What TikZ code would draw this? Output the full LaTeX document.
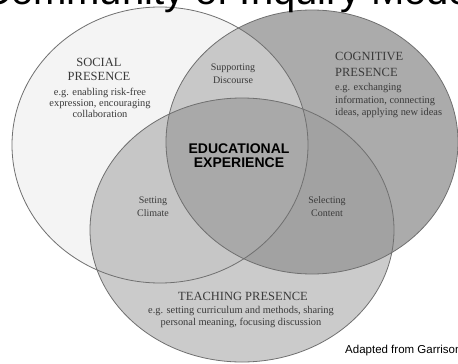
\documentclass[tikz,border=0pt]{standalone}
\usepackage{fontspec}
\setmainfont{Liberation Serif}
\newfontfamily\arialf{Liberation Sans}
\definecolor{socC}{HTML}{F4F4F4}
\definecolor{cogC}{HTML}{ABABAB}
\definecolor{scC}{HTML}{C8C8C8}
\definecolor{teaC}{HTML}{CBCBCB}
\definecolor{stC}{HTML}{C6C6C6}
\definecolor{ctC}{HTML}{A2A2A2}
\definecolor{allC}{HTML}{A9A9A9}
\definecolor{edgeC}{HTML}{707070}
\definecolor{txtC}{HTML}{3A3A3A}
\begin{document}
\begin{tikzpicture}[x=1pt,y=-1pt,
  head/.style={font=\fontsize{12.5}{13}\selectfont, text=txtC, inner sep=0pt},
  desc/.style={font=\fontsize{10.4}{11}\selectfont, text=txtC, inner sep=0pt},
  lens/.style={font=\fontsize{10}{11}\selectfont, text=txtC, inner sep=0pt},
  core/.style={font=\arialf\bfseries\fontsize{14}{15}\selectfont, text=black, inner sep=0pt},
  ring/.style={draw=edgeC, line width=0.8pt}]
\useasboundingbox (0,0) rectangle (458,364);
\fill[white] (0,0) rectangle (458,364);
\def\soc{(160,145) ellipse [x radius=148pt, y radius=138pt]}
\def\cog{(312,142) ellipse [x radius=146pt, y radius=132pt]}
\def\tea{(242,230) ellipse [x radius=152pt, y radius=132pt]}
% fills
\fill[socC] \soc;
\fill[cogC] \cog;
\begin{scope}\clip \soc; \fill[scC] \cog; \end{scope}
\fill[teaC] \tea;
\begin{scope}\clip \tea; \fill[stC] \soc; \end{scope}
\begin{scope}\clip \tea; \fill[ctC] \cog; \end{scope}
\begin{scope}\clip \tea; \clip \soc; \fill[allC] \cog; \end{scope}
% outlines
\draw[ring] \soc;
\draw[ring] \cog;
\draw[ring] \tea;
% title (cropped at top, as in the reference)
\node[anchor=base west, inner sep=0pt, font=\arialf\fontsize{40}{40}\selectfont] (title) at (-18,5) {Community of Inquiry Model};
% social presence
\node[head, anchor=base] (s1) at (99,66) {SOCIAL};
\node[head, anchor=base] (s2) at (99,80) {PRESENCE};
\node[desc, anchor=base] (s3) at (100,95) {e.g. enabling risk-free};
\node[desc, anchor=base] (s4) at (100,106) {expression, encouraging};
\node[desc, anchor=base] (s5) at (100,117.5) {collaboration};
% cognitive presence
\node[head, anchor=base west] (c1) at (335,60) {COGNITIVE};
\node[head, anchor=base west] (c2) at (335,76) {PRESENCE};
\node[desc, anchor=base west] (c3) at (335,90) {e.g. exchanging};
\node[desc, anchor=base west] (c4) at (335,103) {information, connecting};
\node[desc, anchor=base west] (c5) at (335,115) {ideas, applying new ideas};
% lens labels
\node[lens, anchor=base] (d1) at (233,70) {Supporting};
\node[lens, anchor=base] (d2) at (233,83) {Discourse};
\node[lens, anchor=base] (k1) at (153,203) {Setting};
\node[lens, anchor=base] (k2) at (153,216) {Climate};
\node[lens, anchor=base] (l1) at (327,203) {Selecting};
\node[lens, anchor=base] (l2) at (327,216) {Content};
% centre
\node[core, anchor=base] (e1) at (239,153) {EDUCATIONAL};
\node[core, anchor=base] (e2) at (239,167) {EXPERIENCE};
% teaching presence
\node[head, anchor=base] (t1) at (243,300) {TEACHING PRESENCE};
\node[desc, anchor=base] (t2) at (241,313) {e.g. setting curriculum and methods, sharing};
\node[desc, anchor=base] (t3) at (241,325.5) {personal meaning, focusing discussion};
% credit
\node[anchor=base west, inner sep=0pt, font=\arialf\fontsize{11.5}{12}\selectfont] (cr) at (345,353) {Adapted from Garrison};
\end{tikzpicture}
\end{document}
